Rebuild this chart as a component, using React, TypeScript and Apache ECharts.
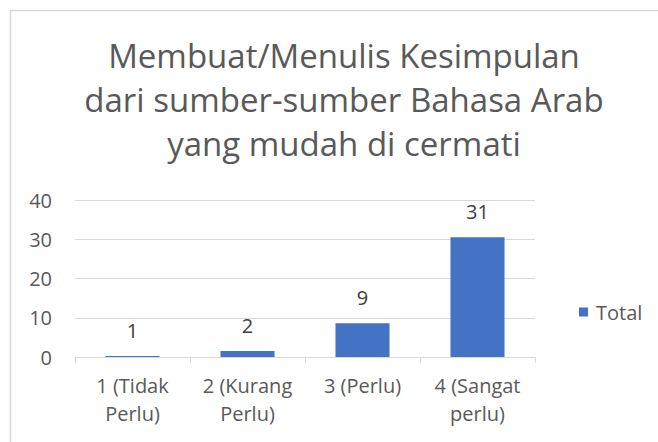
import React, { useEffect, useRef } from "react";
import * as echarts from "echarts";

const titleLines = [
  "Membuat/Menulis Kesimpulan",
  "dari sumber-sumber Bahasa Arab",
  "yang mudah di cermati",
];
const categories = ["1 (Tidak\nPerlu)", "2 (Kurang\nPerlu)", "3 (Perlu)", "4 (Sangat\nperlu)"];
const totalValues = [0.25, 1.5, 8.6, 30.5];
const seriesName = "Total";
const yMin = 0;
const yMax = 40;
const yInterval = 10;

const FONT = "'Open Sans', 'Noto Sans', sans-serif";
const TXT = "#595959";

export default function App() {
  const ref = useRef<HTMLDivElement>(null);
  useEffect(() => {
    document.body.style.margin = "0";
    const chart = echarts.init(ref.current!, null, { renderer: "svg" });
    chart.setOption({
      animation: false,
      backgroundColor: "#ffffff",
      textStyle: { fontFamily: FONT },
      title: {
        text: titleLines.join("\n"),
        left: 339,
        top: 28,
        textAlign: "center",
        textStyle: {
          fontFamily: FONT,
          fontSize: 33,
          fontWeight: "normal",
          color: TXT,
          lineHeight: 44,
        },
      },
      legend: {
        data: [seriesName],
        left: 574,
        top: 297,
        icon: "rect",
        itemWidth: 9,
        itemHeight: 9,
        itemGap: 6,
        textStyle: { fontFamily: FONT, fontSize: 20, color: TXT, padding: [0, 0, 0, 3] },
      },
      grid: { left: 75, right: 123, top: 200, bottom: 85, containLabel: false },
      xAxis: {
        type: "category",
        data: categories,
        boundaryGap: true,
        axisLine: { lineStyle: { color: "#d9d9d9", width: 1 } },
        axisTick: { show: true, alignWithLabel: false, length: 6, lineStyle: { color: "#d9d9d9" } },
        axisLabel: {
          interval: 0,
          fontFamily: FONT,
          fontSize: 20,
          color: TXT,
          lineHeight: 28,
          margin: 14,
        },
      },
      yAxis: {
        type: "value",
        min: yMin,
        max: yMax,
        interval: yInterval,
        axisLine: { show: false },
        axisTick: { show: false },
        splitLine: { lineStyle: { color: "#d9d9d9", width: 1 } },
        axisLabel: { fontFamily: FONT, fontSize: 20, color: TXT, margin: 23 },
      },
      series: [
        {
          name: seriesName,
          type: "bar",
          data: totalValues,
          barWidth: "47%",
          itemStyle: { color: "#4472C4" },
          label: {
            show: true,
            position: "top",
            distance: 16,
            fontFamily: FONT,
            fontSize: 20,
            color: "#404040",
            formatter: (p: any) => String(Math.ceil(p.value)),
          },
        },
      ],
      graphic: [
        {
          type: "line",
          shape: { x1: 10.5, y1: 10, x2: 10.5, y2: 442 },
          style: { stroke: "#d9d9d9", lineWidth: 1.5 },
        },
        {
          type: "line",
          shape: { x1: 10, y1: 10.5, x2: 658, y2: 10.5 },
          style: { stroke: "#d9d9d9", lineWidth: 1.5 },
        },
      ],
    });
    return () => chart.dispose();
  }, []);
  return <div ref={ref} style={{ position: "fixed", left: 0, top: 0, width: 658, height: 442 }} />;
}
